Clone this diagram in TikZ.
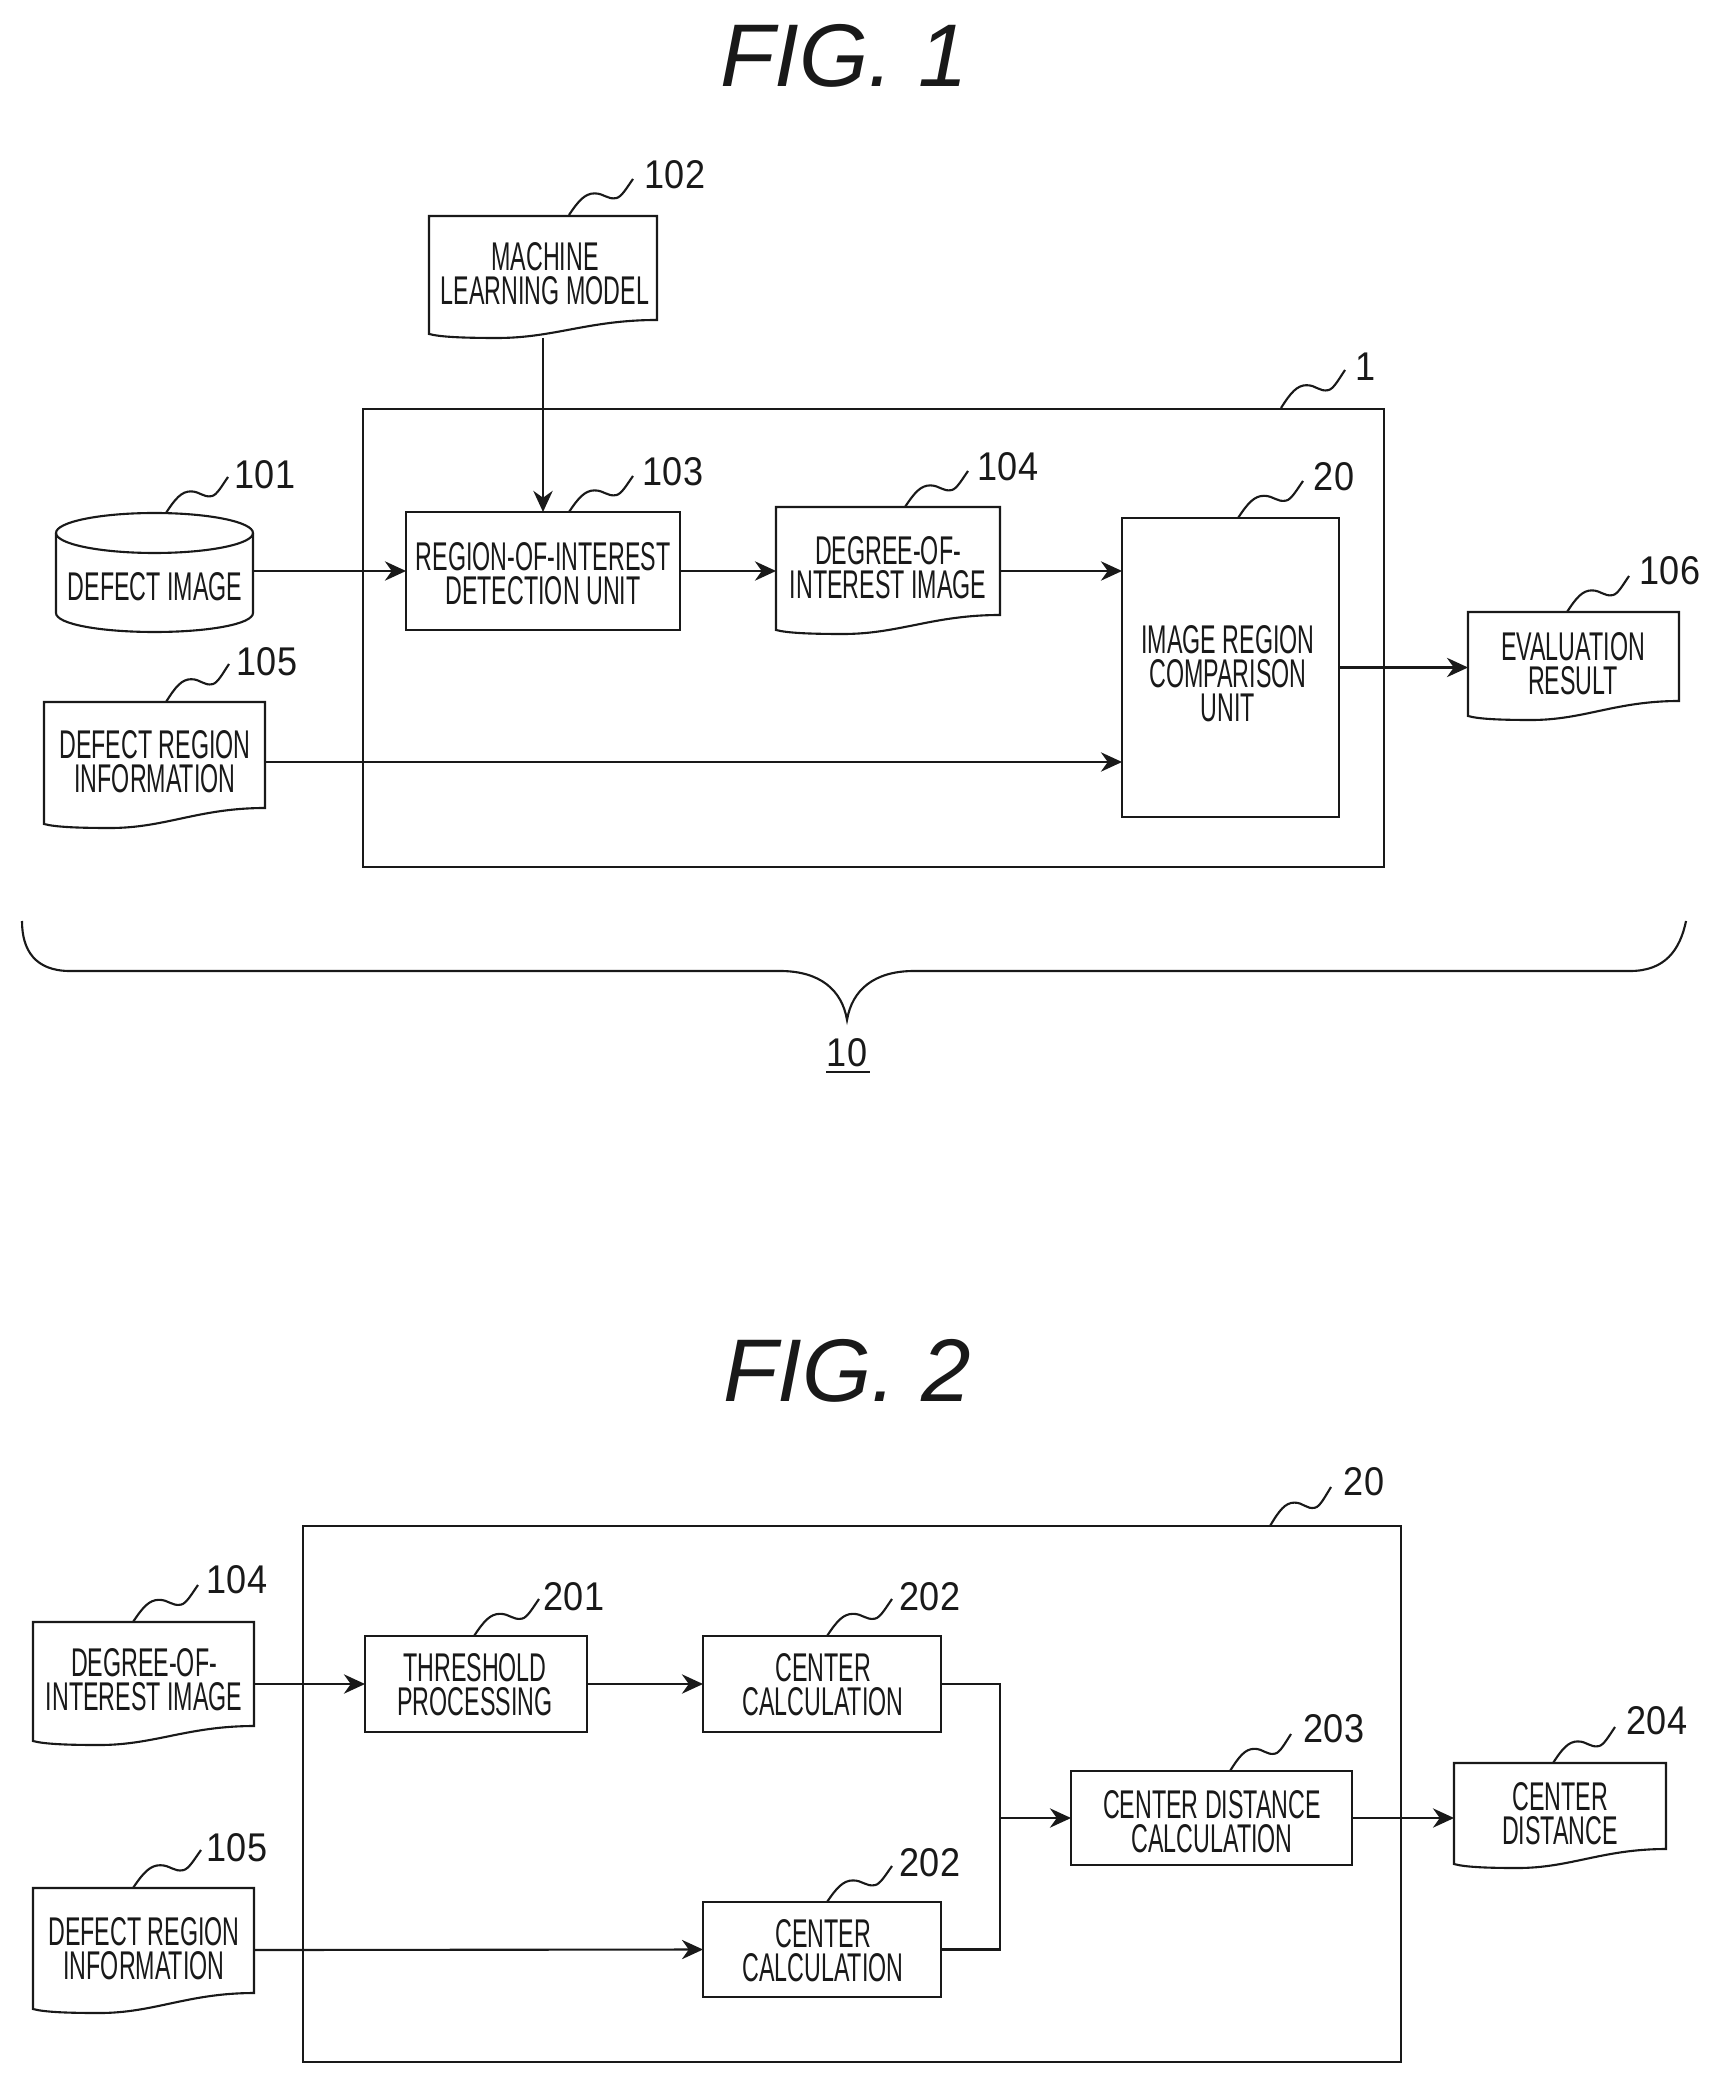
\documentclass[tikz,border=0pt]{standalone}
\usepackage{fontspec}
\usetikzlibrary{arrows.meta,fit}
\setmainfont{Liberation Sans}
\newfontfamily\lblf[FakeStretch=0.58]{Liberation Sans}
\newfontfamily\numf[FakeStretch=0.9]{Liberation Sans}
\newfontfamily\titf[ItalicFont={Liberation Sans Italic}]{Liberation Sans}
\tikzset{
  ln/.style={line width=0.6pt,draw=black!90},
  arr/.style={ln,-{Stealth[length=6pt,width=5.5pt]}},
  lbl/.style={font=\lblf\fontsize{11.4}{9.7}\selectfont,align=center,inner sep=0pt,text=black!90},
  num/.style={font=\numf\fontsize{11.4}{12}\selectfont,inner sep=0pt,text=black!90},
  title/.style={font=\titf\itshape\fontsize{25.3}{26}\selectfont,inner sep=0pt,text=black!90},
  box/.style={inner sep=0pt,outer sep=0pt},
}
% name x0 x1 top rb lb arrowy
\newcommand\docn[7]{%
  \pgfmathsetmacro\docW{#3-#2}%
  \pgfmathsetmacro\docL{#6+4}%
  \draw[ln] (#3,#4) -- (#3,#5)
    .. controls ({#3-.3*\docW},#5) and ({#3-.45*\docW},\docL) .. ({#2+.3*\docW},\docL)
    .. controls ({#2+.15*\docW},\docL) and ({#2+.05*\docW},{#6+3}) .. (#2,#6)
    -- (#2,#4) -- cycle;
  \coordinate (#1a) at (#2,#4);
  \coordinate (#1b) at (#3,{2*#7-#4});
  \node[box,fit=(#1a)(#1b)] (#1) {};
}
% name x0 x1 top bottom
\newcommand\boxn[5]{%
  \coordinate (#1a) at (#2,#4);
  \coordinate (#1b) at (#3,#5);
  \node[box,fit=(#1a)(#1b)] (#1) {};
  \draw[ln] (#1a) rectangle (#1b);
}
% name sx sy ex ey
\newcommand\leadw[5]{%
  \pgfmathsetmacro\ldX{#4-#2}%
  \pgfmathsetmacro\ldY{#5-#3}%
  \coordinate (#1s) at (#2,#3);
  \coordinate (#1e) at (#4,#5);
  \draw[ln] (#1s) .. controls ({#2+.15*\ldX},{#3+.4*\ldY}) and ({#2+.25*\ldX},{#3+.6*\ldY}) .. ({#2+.4*\ldX},{#3+.6*\ldY})
    .. controls ({#2+.55*\ldX},{#3+.6*\ldY}) and ({#2+.6*\ldX},{#3+.42*\ldY}) .. ({#2+.74*\ldX},{#3+.47*\ldY})
    .. controls ({#2+.82*\ldX},{#3+.5*\ldY}) and ({#2+.9*\ldX},{#3+.75*\ldY}) .. (#1e);
}
\begin{document}
\begin{tikzpicture}[x=0.01cm,y=-0.01cm]
\useasboundingbox (0,0) rectangle (1720,2083);
\fill[white] (0,0) rectangle (1720,2083);

% ---------- FIG. 1
\node[title] (t1) at (844,56) {FIG. 1};

\boxn{o1}{363}{1384}{409}{867}
\docn{d102}{429}{657}{216}{320}{334}{277}
\node[lbl] (d102t) at (545,274) {MACHINE\\LEARNING MODEL};
\boxn{b103}{406}{680}{512}{630}
\node[lbl] (b103t) at (543,574) {REGION-OF-INTEREST\\DETECTION UNIT};

% cylinder
\coordinate (c101a) at (56,513);
\coordinate (c101b) at (253,629);
\node[box,fit=(c101a)(c101b)] (c101) {};
\draw[ln] (56,533) .. controls (56,522) and (100,513) .. (154.5,513)
  .. controls (209,513) and (253,522) .. (253,533) -- (253,613)
  .. controls (253,624) and (209,632) .. (154.5,632)
  .. controls (100,632) and (56,624) .. (56,613) -- cycle;
\draw[ln] (56,533) .. controls (56,544) and (100,553) .. (154.5,553)
  .. controls (209,553) and (253,544) .. (253,533);
\node[lbl] (c101t) at (155,587) {DEFECT IMAGE};

\docn{d105}{44}{265}{702}{808}{824}{762}
\node[lbl] (d105t) at (155,762) {DEFECT REGION\\INFORMATION};
\docn{d104}{776}{1000}{507}{615}{630}{571}
\node[lbl] (d104t) at (888,568) {DEGREE-OF-\\INTEREST IMAGE};
\boxn{b20}{1122}{1339}{518}{817}
\node[lbl] (b20t) at (1228,674) {IMAGE REGION\\COMPARISON\\UNIT};
\docn{d106}{1468}{1679}{612}{701}{716}{667}
\node[lbl] (d106t) at (1573,664) {EVALUATION\\RESULT};

\draw[arr] (d102.south) -- (b103.north);
\draw[arr] (c101.east) -- (b103.west);
\draw[arr] (b103.east) -- (d104.west);
\draw[arr] (d104.east) -- (d104.east -| b20.west);
\draw[arr] (d105.east) -- (d105.east -| b20.west);
\draw[arr] (b20.east) -- (b20.east -| d106.west);

\leadw{l102}{569}{215}{633}{179}
\node[num] (n102) at (675,175) {102};
\leadw{l101}{166}{513}{228}{477}
\node[num] (n101) at (265,475) {101};
\leadw{l103}{569}{512}{633}{476}
\node[num] (n103) at (673,472) {103};
\leadw{l105}{166}{702}{229}{664}
\node[num] (n105) at (267,662) {105};
\leadw{l1}{1281}{408}{1345}{370}
\node[num] (n1) at (1366,367) {1};
\leadw{l104}{905}{507}{968}{471}
\node[num] (n104) at (1008,467) {104};
\leadw{l20}{1238}{518}{1303}{481}
\node[num] (n20) at (1334,477) {20};
\leadw{l106}{1567}{612}{1629}{576}
\node[num] (n106) at (1670,571) {106};

% brace
\coordinate (bl) at (22,921);
\coordinate (br) at (1686,921);
\coordinate (bt) at (847,1020);
\draw[ln] (bl) .. controls (22,950) and (35,971) .. (70,971) -- (780,971)
  .. controls (820,971) and (842,990) .. (bt)
  .. controls (852,990) and (874,971) .. (914,971) -- (1630,971)
  .. controls (1665,971) and (1680,950) .. (br);
\node[num] (n10) at (847,1053) {10};
\draw[ln] (n10.south west) ++(0,4) -- ++(44,0);

% ---------- FIG. 2
\node[title] (t2) at (847,1371) {FIG. 2};

\boxn{o2}{303}{1401}{1526}{2062}
\docn{d204}{33}{254}{1622}{1726}{1741}{1684}
\node[lbl] (d204t) at (144,1680) {DEGREE-OF-\\INTEREST IMAGE};
\docn{d205}{33}{254}{1888}{1993}{2009}{1950}
\node[lbl] (d205t) at (144,1949) {DEFECT REGION\\INFORMATION};
\boxn{b201}{365}{587}{1636}{1732}
\node[lbl] (b201t) at (475,1685) {THRESHOLD\\PROCESSING};
\boxn{b202a}{703}{941}{1636}{1732}
\node[lbl] (b202at) at (823,1685) {CENTER\\CALCULATION};
\boxn{b202b}{703}{941}{1902}{1997}
\node[lbl] (b202bt) at (823,1951) {CENTER\\CALCULATION};
\boxn{b203}{1071}{1352}{1771}{1865}
\node[lbl] (b203t) at (1212,1822) {CENTER DISTANCE\\CALCULATION};
\docn{d304}{1454}{1666}{1763}{1849}{1864}{1818}
\node[lbl] (d304t) at (1560,1814) {CENTER\\DISTANCE};

\draw[arr] (d204.east) -- (b201.west);
\draw[arr] (b201.east) -- (b202a.west);
\draw[arr] (d205.east) -- (b202b.west);
\coordinate (jn) at (1000,1818);
\draw[ln] (b202a.east) -| (jn);
\draw[ln] (b202b.east) -| (jn);
\draw[arr] (jn) -- (b203.west);
\draw[arr] (b203.east) -- (d304.west);

\leadw{l204}{133}{1622}{198}{1585}
\node[num] (n204) at (237,1580) {104};
\leadw{l205}{133}{1888}{201}{1850}
\node[num] (n205) at (237,1848) {105};
\leadw{l201}{474}{1636}{539}{1599}
\node[num] (n201) at (574,1597) {201};
\leadw{l202a}{827}{1636}{892}{1599}
\node[num] (n202a) at (930,1597) {202};
\leadw{l202b}{827}{1902}{892}{1866}
\node[num] (n202b) at (930,1863) {202};
\leadw{l20b}{1270}{1526}{1331}{1487}
\node[num] (n20b) at (1364,1482) {20};
\leadw{l203}{1230}{1771}{1291}{1734}
\node[num] (n203) at (1334,1729) {203};
\leadw{l304}{1553}{1763}{1615}{1727}
\node[num] (n304) at (1657,1721) {204};
\end{tikzpicture}
\end{document}
